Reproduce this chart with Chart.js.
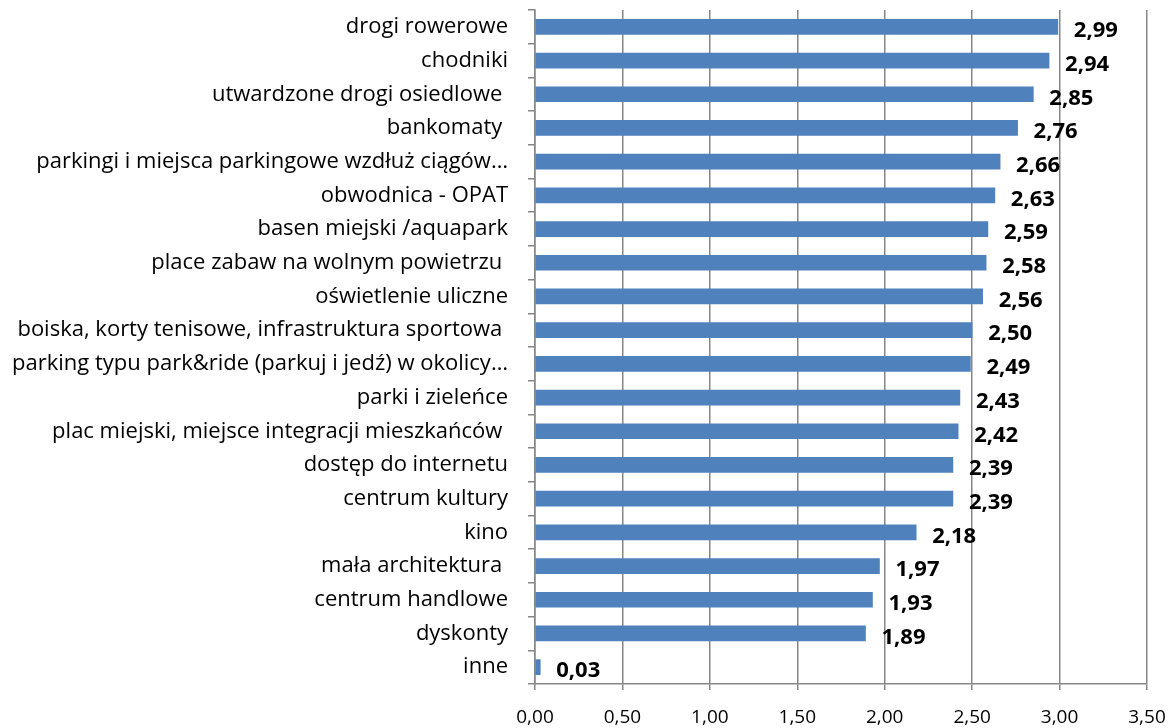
<!DOCTYPE html>
<html>
<head>
<meta charset="utf-8">
<script src="https://cdn.jsdelivr.net/npm/chart.js@4"></script>
<style>
html,body{margin:0;padding:0;background:#fff;}
#wrap{width:1173px;height:728px;}
</style>
</head>
<body>
<div id="wrap"><canvas id="c" width="1173" height="728"></canvas></div>
<script>
const categories = [
  "drogi rowerowe",
  "chodniki",
  "utwardzone drogi osiedlowe ",
  "bankomaty ",
  "parkingi i miejsca parkingowe wzdłuż ciągów…",
  "obwodnica - OPAT",
  "basen miejski /aquapark",
  "place zabaw na wolnym powietrzu ",
  "oświetlenie uliczne",
  "boiska, korty tenisowe, infrastruktura sportowa ",
  "parking typu park&ride (parkuj i jedź) w okolicy…",
  "parki i zieleńce",
  "plac miejski, miejsce integracji mieszkańców ",
  "dostęp do internetu",
  "centrum kultury",
  "kino",
  "mała architektura ",
  "centrum handlowe",
  "dyskonty",
  "inne"
];
const values = [2.99, 2.94, 2.85, 2.76, 2.66, 2.63, 2.59, 2.58, 2.56, 2.50, 2.49, 2.43, 2.42, 2.39, 2.39, 2.18, 1.97, 1.93, 1.89, 0.03];
const xTicks = [0, 0.5, 1, 1.5, 2, 2.5, 3, 3.5];

const FONT = "'Open Sans', Lato, sans-serif";
const fmt = v => v.toFixed(2).replace('.', ',');

const labelPlugin = {
  id: 'valueLabels',
  afterDatasetsDraw(chart) {
    const ctx = chart.ctx;
    const meta = chart.getDatasetMeta(0);
    ctx.save();
    ctx.font = "bold 22px " + FONT;
    ctx.fillStyle = "#000";
    ctx.textAlign = "left";
    ctx.textBaseline = "middle";
    meta.data.forEach((bar, i) => {
      ctx.fillText(fmt(values[i]), bar.x + 16, bar.y + 4);
    });
    ctx.restore();
  }
};

new Chart(document.getElementById('c'), {
  type: 'bar',
  data: {
    labels: categories,
    datasets: [{
      data: values,
      backgroundColor: '#4F81BD',
      borderWidth: 0,
      barThickness: 15
    }]
  },
  options: {
    indexAxis: 'y',
    responsive: false,
    animation: false,
    layout: { padding: { left: 0, right: 26, top: 10, bottom: 0 } },
    plugins: { legend: { display: false }, tooltip: { enabled: false } },
    scales: {
      x: {
        min: 0, max: 3.5,
        afterBuildTicks: s => { s.ticks = xTicks.map(v => ({ value: v })); },
        afterFit: s => { s.paddingRight = 0; s.paddingLeft = 0; s.height = 44; },
        grid: { color: '#868686', lineWidth: 1.5, tickLength: 6, drawOnChartArea: true },
        border: { color: '#868686', width: 1.5 },
        ticks: { font: { family: FONT, size: 19 }, color: '#000', padding: 16, maxRotation: 0, callback: v => fmt(v) }
      },
      y: {
        afterFit: s => { s.width = 535; s.paddingTop = 0; s.paddingBottom = 0; },
        grid: { display: true, drawOnChartArea: false, color: '#868686', lineWidth: 1.5, tickLength: 7, offset: true },
        border: { color: '#868686', width: 1.5 },
        ticks: { font: { family: FONT, size: 22 }, color: '#000', padding: 20, autoSkip: false }
      }
    }
  },
  plugins: [labelPlugin]
});
</script>
</body>
</html>
